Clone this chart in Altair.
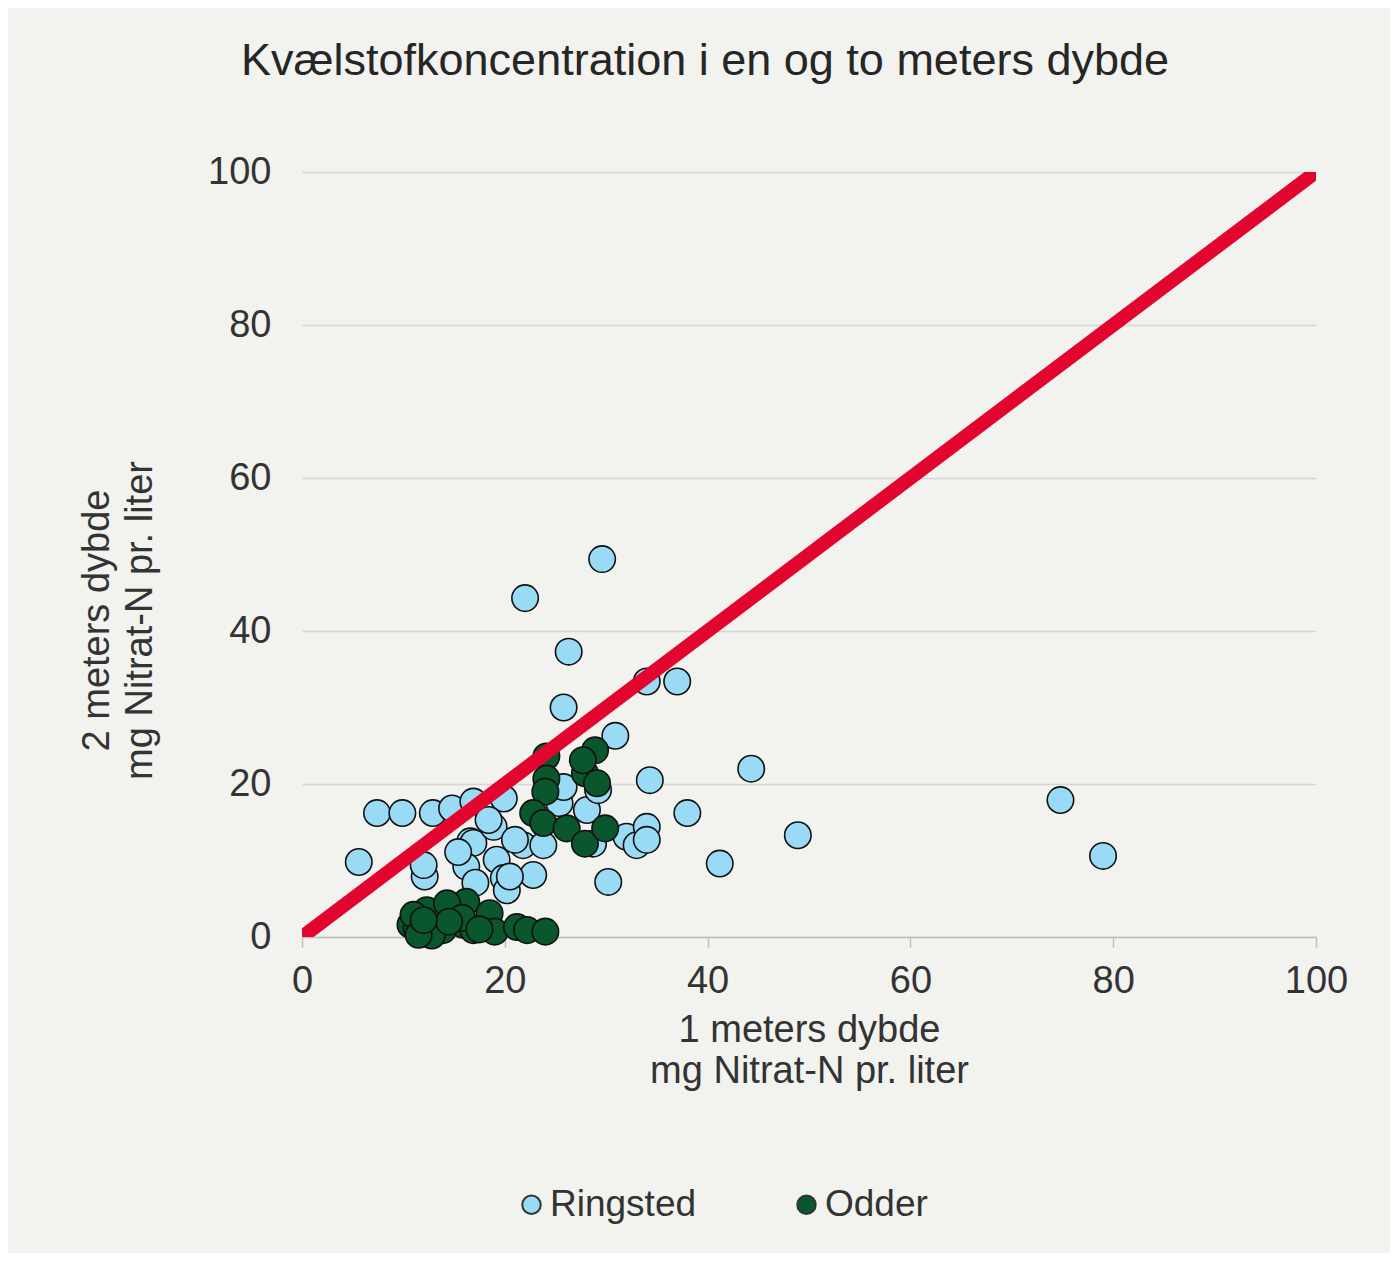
import altair as alt
import pandas as pd

# Ringsted: 1 m depth (x) and 2 m depth (y), mg Nitrat-N per liter
ringsted_x = [29.6, 22.0, 26.3, 25.8, 30.9, 34.3, 7.4, 9.9, 12.9, 14.8, 16.9, 19.9,
              5.6, 12.1, 12.0, 16.6, 16.9, 18.9, 19.2, 16.2, 17.1, 19.9, 20.2, 22.8,
              21.8, 23.8, 25.4, 25.8, 28.1, 28.7, 29.2, 32.0, 33.0, 34.0, 34.0, 30.2,
              38.0, 34.0, 37.0, 44.3, 48.9, 41.2, 74.8, 79.0, 18.4, 15.4, 21.0, 20.5]
ringsted_y = [49.4, 44.3, 37.3, 30.0, 26.3, 20.5, 16.2, 16.2, 16.2, 16.8, 17.7, 18.1,
              9.8, 7.9, 9.4, 12.5, 12.3, 14.4, 10.1, 9.2, 7.1, 7.7, 6.1, 8.1,
              12.0, 12.0, 17.5, 19.6, 16.6, 12.2, 19.2, 13.1, 12.0, 14.4, 12.7, 7.2,
              16.2, 33.4, 33.4, 22.0, 13.3, 9.6, 17.9, 10.6, 15.3, 11.1, 12.7, 7.9]

# Odder
odder_x = [24.1, 24.1, 24.0, 22.8, 23.8, 26.1, 27.9, 29.9, 28.9, 27.9, 29.1, 27.7,
           10.7, 12.3, 12.9, 14.9, 15.9, 16.2, 18.5, 19.0, 21.2, 22.2, 24.0, 11.3,
           13.9, 16.9, 12.8, 11.0, 14.3, 15.8, 11.5, 14.5, 12.0, 17.5]
odder_y = [23.6, 20.7, 19.0, 16.2, 14.9, 14.2, 12.2, 14.2, 24.4, 21.4, 20.1, 23.1,
           1.6, 3.5, 0.9, 4.0, 1.6, 4.6, 3.1, 0.7, 1.3, 0.9, 0.7, 1.2,
           0.9, 0.9, 0.2, 2.9, 4.4, 2.5, 0.3, 2.0, 2.2, 1.0]

series = ["Ringsted", "Odder"]
colors = ["#99daf5", "#0a572d"]
ticks = [0, 20, 40, 60, 80, 100]
line_x = [0, 100]
line_y = [0, 100]

df = pd.concat([
    pd.DataFrame({"x": ringsted_x, "y": ringsted_y, "Serie": "Ringsted", "o": 0}),
    pd.DataFrame({"x": odder_x, "y": odder_y, "Serie": "Odder", "o": 1}),
], ignore_index=True)
df_line = pd.DataFrame({"x": line_x, "y": line_y})

FONT = "Liberation Sans"
TXT = "#333333"

xscale = alt.Scale(domain=[0, 100], nice=False)
yscale = alt.Scale(domain=[0, 100], nice=False)

points = alt.Chart(df).mark_circle(
    size=700, opacity=1, stroke="#111111", strokeWidth=1.6
).encode(
    x=alt.X("x:Q", scale=xscale,
            axis=alt.Axis(values=ticks, grid=False, domain=True, domainColor="#bfbfbf",
                          domainWidth=1.5, ticks=True, tickColor="#bfbfbf", tickSize=10,
                          tickWidth=1.5, labelPadding=15, labelFlush=False,
                          labelFontSize=38, labelFont=FONT,
                          labelColor=TXT, title=["1 meters dybde", "mg Nitrat-N pr. liter"],
                          titleFont=FONT, titleFontSize=38, titleFontWeight="normal",
                          titleColor=TXT, titleLineHeight=41, titleX=507, titleY=93,
                          titleBaseline="middle", titleAlign="center")),
    y=alt.Y("y:Q", scale=yscale,
            axis=alt.Axis(values=ticks, grid=True, gridColor="#d6d6d6", gridWidth=1.5,
                          domain=False, ticks=False, tickSize=0, labelPadding=31,
                          labelFontSize=38, labelFont=FONT, labelColor=TXT,
                          title=["2 meters dybde", "mg Nitrat-N pr. liter"],
                          titleFont=FONT, titleFontSize=38, titleFontWeight="normal",
                          titleColor=TXT, titleLineHeight=43, titleAngle=270,
                          titleX=-205, titleY=448, titleBaseline="middle",
                          titleAlign="center")),
    color=alt.Color("Serie:N", scale=alt.Scale(domain=series, range=colors),
                    sort=series,
                    legend=alt.Legend(title=None, orient="none", direction="horizontal",
                                      columns=2, legendX=211, legendY=1014,
                                      symbolType="circle", symbolSize=340,
                                      symbolStrokeColor="#333333", symbolStrokeWidth=2,
                                      labelFont=FONT, labelFontSize=37, labelColor=TXT,
                                      labelOffset=0, columnPadding=91)),
    order=alt.Order("o:Q"),
)

line = alt.Chart(df_line).mark_line(
    color="#e2062f", strokeWidth=14, clip=True, strokeCap="butt"
).encode(
    x=alt.X("x:Q", scale=xscale),
    y=alt.Y("y:Q", scale=yscale),
)

chart = alt.layer(points, line).properties(
    width=1014,
    height=765,
    title=alt.TitleParams("Kvælstofkoncentration i en og to meters dybde",
                          font=FONT, fontSize=45, fontWeight="normal", color="#262626",
                          anchor="middle", frame="group", dx=-104, offset=69),
    autosize=alt.AutoSizeParams(type="none"),
    padding={"left": 294, "top": 164, "right": 74, "bottom": 316},
    background="#f2f2ee",
).configure_view(stroke=None)

chart.save("out.html", embed_options={"renderer": "svg", "actions": False})
